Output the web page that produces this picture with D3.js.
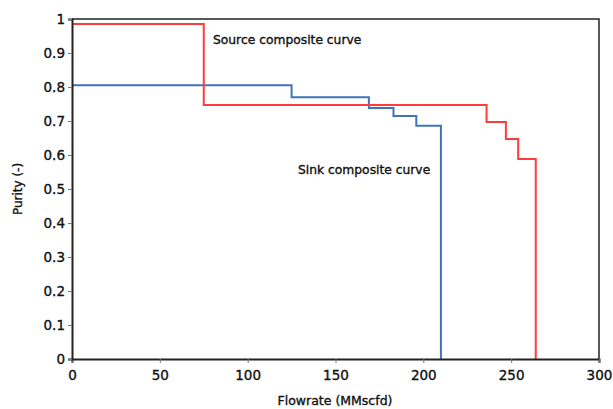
<!DOCTYPE html>
<html>
<head>
<meta charset="utf-8">
<script src="https://cdn.jsdelivr.net/npm/d3@7"></script>
<style>
  body { margin: 0; background: #fff; }
  text { font-family: "DejaVu Sans", Verdana, sans-serif; fill: #111; stroke: #111; stroke-width: 0.35; }
</style>
</head>
<body>
<script>
// step curves: flow breakpoints and purity held until the next breakpoint
var sourceFlow = [0, 75, 236, 247, 254, 264]
var sourcePurity = [0.985, 0.747, 0.697, 0.647, 0.588]
var sinkFlow = [0, 125, 169, 183, 196, 210]
var sinkPurity = [0.805, 0.77, 0.738, 0.715, 0.686]

var xTicks = [0, 50, 100, 150, 200, 250, 300]
var yTicks = [0, 0.1, 0.2, 0.3, 0.4, 0.5, 0.6, 0.7, 0.8, 0.9, 1]

var margin = {top: 19, right: 14, bottom: 50, left: 72},
    width = 613 - margin.left - margin.right,
    height = 409 - margin.top - margin.bottom

var svg = d3.select("body").append("svg")
    .attr("width", 613)
    .attr("height", 409)

var g = svg.append("g")
    .attr("transform", "translate(" + margin.left + "," + margin.top + ")")

var x = d3.scaleLinear().domain([0, 300]).range([0, width])
var y = d3.scaleLinear().domain([0, 1]).range([height, 0])

function stepPoints(flow, purity) {
  var pts = purity.map(function(p, i) { return [flow[i], p] })
  var last = flow[flow.length - 1]
  pts.push([last, purity[purity.length - 1]])
  pts.push([last, 0])
  return pts
}

var line = d3.line()
    .x(function(d) { return x(d[0]) })
    .y(function(d) { return y(d[1]) })
    .curve(d3.curveStepAfter)

// frame (top and right)
g.append("path")
    .attr("d", "M0,0H" + width + "V" + height)
    .attr("fill", "none")
    .attr("stroke", "#222")
    .attr("stroke-width", 1.5)

g.append("path")
    .datum(stepPoints(sinkFlow, sinkPurity))
    .attr("d", line)
    .attr("fill", "none")
    .attr("stroke", "#3f74b8")
    .attr("stroke-width", 2)

g.append("path")
    .datum(stepPoints(sourceFlow, sourcePurity))
    .attr("d", line)
    .attr("fill", "none")
    .attr("stroke", "#ff3b3b")
    .attr("stroke-width", 2)

var xAxis = g.append("g")
    .attr("transform", "translate(0," + height + ")")
    .call(d3.axisBottom(x).tickValues(xTicks).tickSize(4).tickPadding(7))

var yAxis = g.append("g")
    .call(d3.axisLeft(y).tickValues(yTicks).tickSize(4).tickPadding(3)
      .tickFormat(function(d) { return d3.format("")(+d.toFixed(1)) }))

;[xAxis, yAxis].forEach(function(a) {
  a.select(".domain").attr("stroke", "#222").attr("stroke-width", 2)
  a.selectAll(".tick line").attr("stroke", "#777")
  a.selectAll(".tick text").attr("font-size", 13.5)
    .attr("font-family", "DejaVu Sans, sans-serif").attr("fill", "#111")
})

g.append("text")
    .attr("x", 141)
    .attr("y", 25)
    .attr("font-size", 12.3)
    .text("Source composite curve")

g.append("text")
    .attr("x", 226)
    .attr("y", 155)
    .attr("font-size", 12.3)
    .text("Sink composite curve")

svg.append("text")
    .attr("x", 335)
    .attr("y", 405)
    .attr("text-anchor", "middle")
    .attr("font-size", 12.5)
    .text("Flowrate (MMscfd)")

svg.append("text")
    .attr("transform", "translate(22," + (margin.top + height / 2) + ") rotate(-90)")
    .attr("text-anchor", "middle")
    .attr("font-size", 12)
    .text("Purity (-)")
</script>
</body>
</html>
